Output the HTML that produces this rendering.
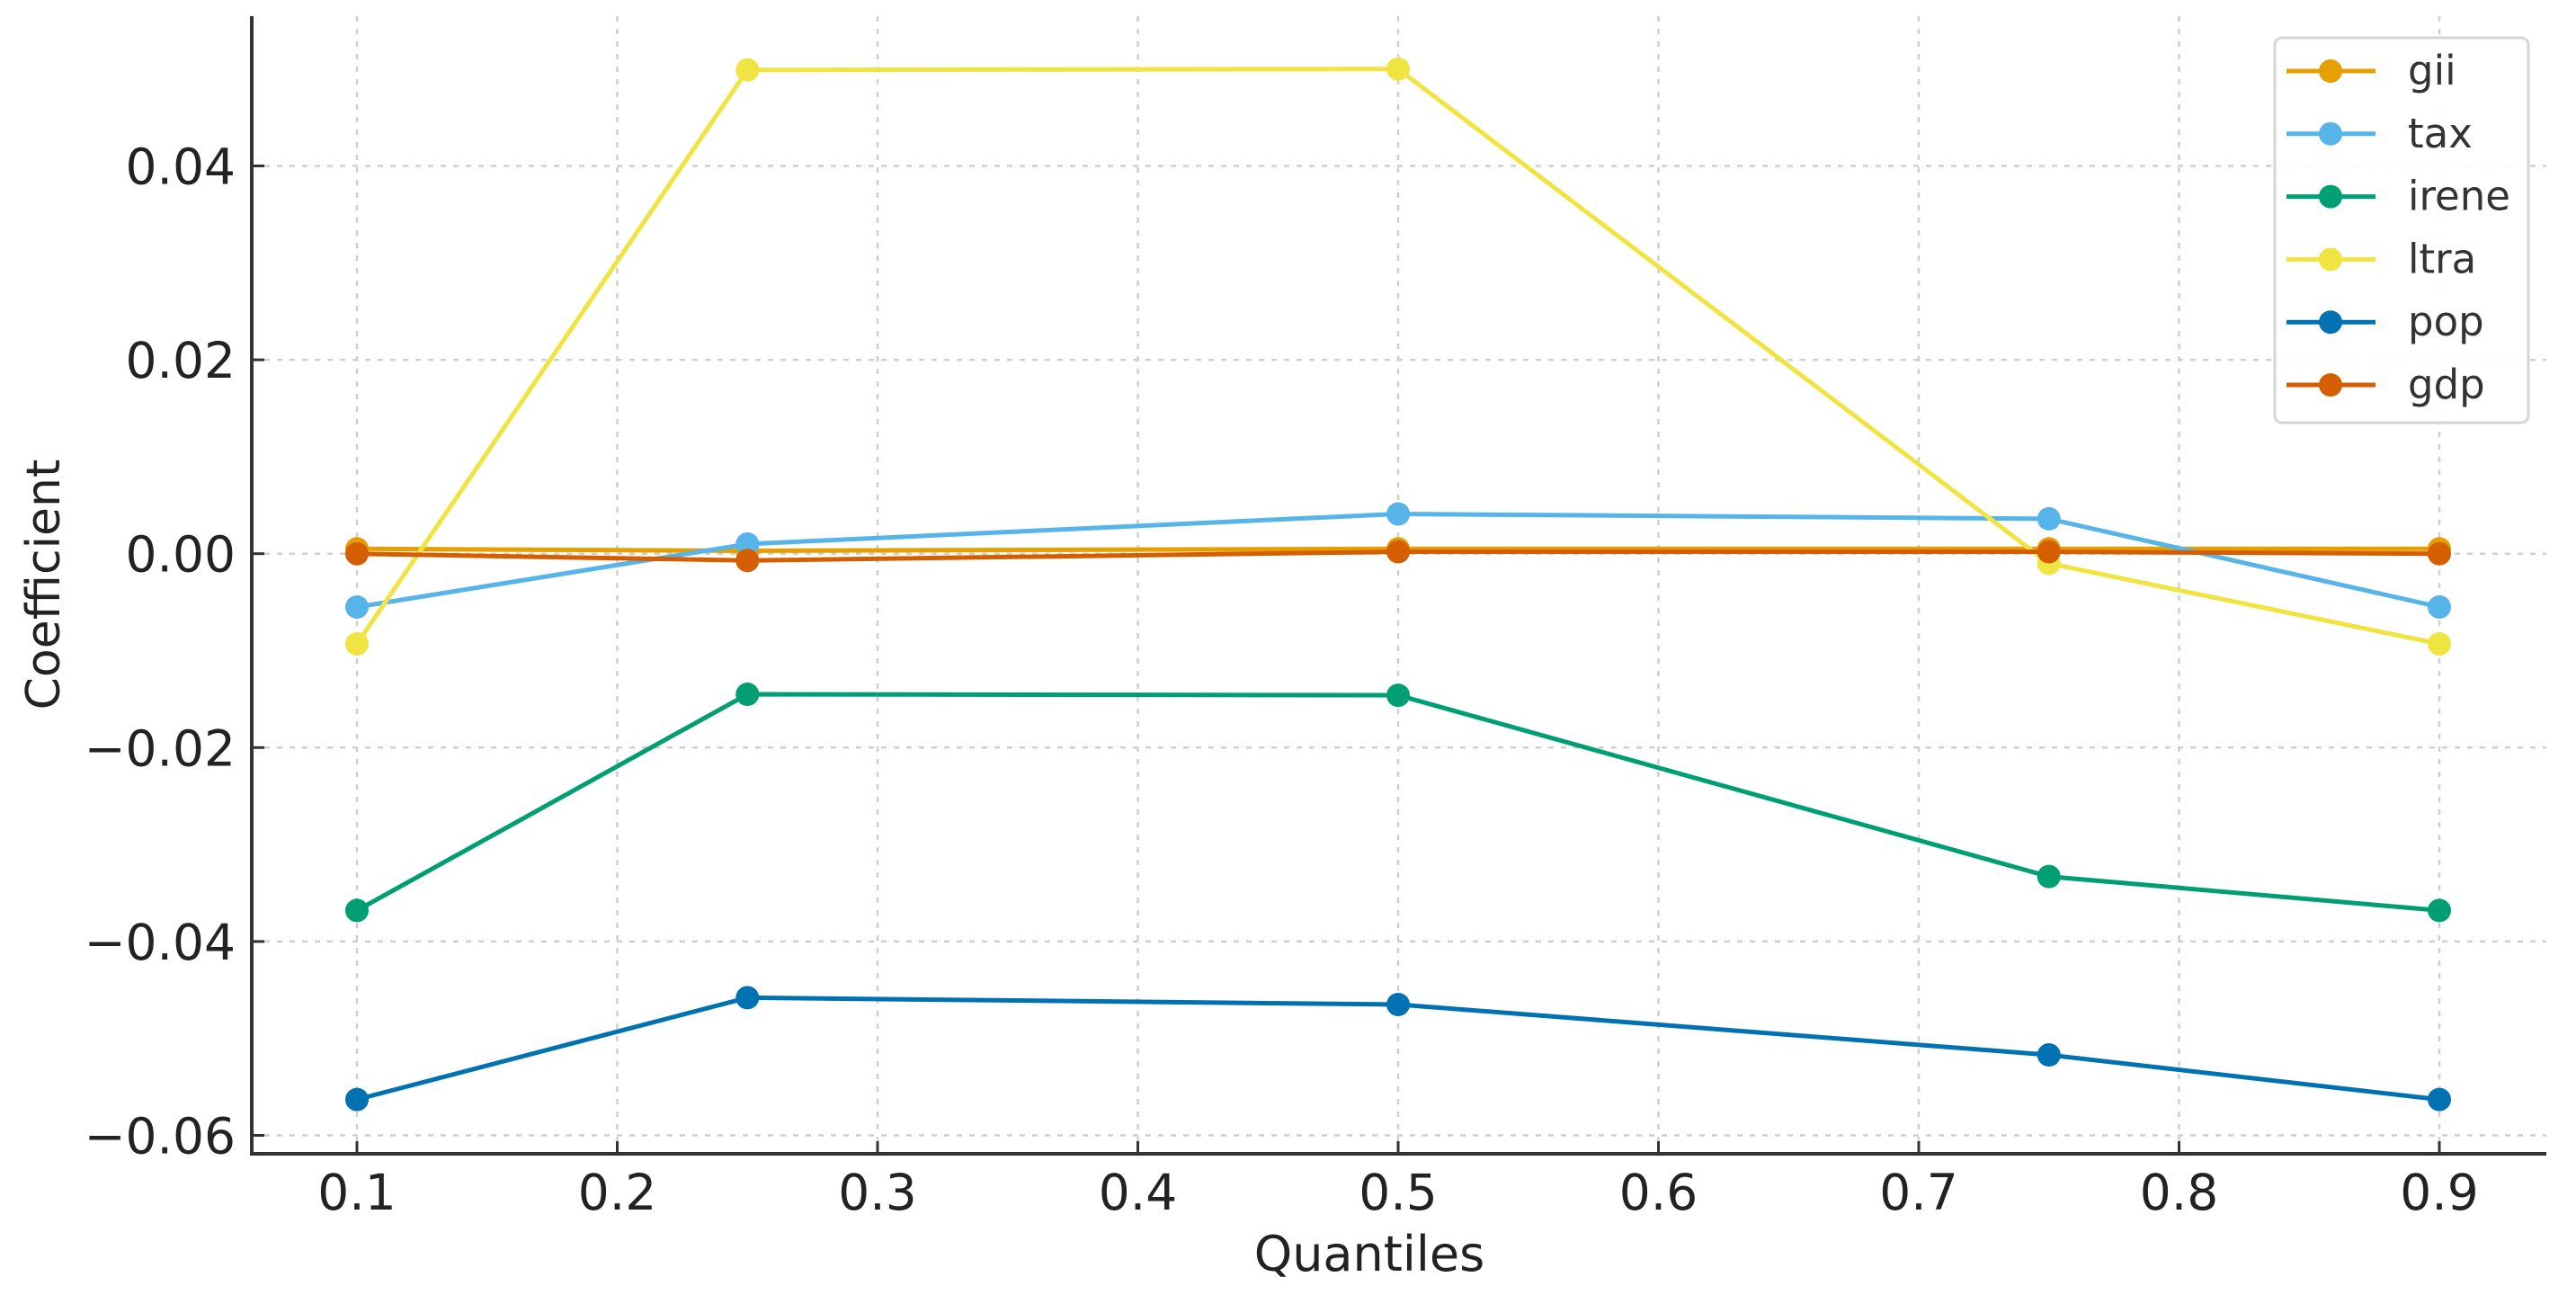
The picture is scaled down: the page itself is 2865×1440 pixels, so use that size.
<!DOCTYPE html>
<html><head><meta charset="utf-8"><style>
html,body{margin:0;padding:0;background:#fff;}
svg{display:block;font-family:"DejaVu Sans","Liberation Sans",sans-serif;}
</style></head><body>
<svg id="chart" width="2865" height="1440" viewBox="0 0 2865 1440" xmlns="http://www.w3.org/2000/svg">
<g id="grid"></g>
<g id="series"></g>
<g id="axes"></g>
<g id="legend"></g>
</svg>
<script>
const quantiles = [0.1, 0.25, 0.5, 0.75, 0.9];
const seriesNames = ["gii", "tax", "irene", "ltra", "pop", "gdp"];
const giiValues = [0.0005, 0.0003, 0.0005, 0.0005, 0.0005];
const taxValues = [-0.0055, 0.001, 0.0041, 0.0036, -0.0055];
const ireneValues = [-0.0368, -0.0145, -0.0146, -0.0333, -0.0368];
const ltraValues = [-0.0093, 0.0499, 0.0500, -0.0010, -0.0093];
const popValues = [-0.0563, -0.0458, -0.0465, -0.0517, -0.0563];
const gdpValues = [0.0, -0.0007, 0.0002, 0.0002, 0.0];
const xTicks = [0.1, 0.2, 0.3, 0.4, 0.5, 0.6, 0.7, 0.8, 0.9];
const xTickLabels = ["0.1","0.2","0.3","0.4","0.5","0.6","0.7","0.8","0.9"];
const yTicks = [-0.06, -0.04, -0.02, 0.0, 0.02, 0.04];
const yTickLabels = ["\u22120.06","\u22120.04","\u22120.02","0.00","0.02","0.04"];

const colors = {gii:"#E69F00", tax:"#56B4E9", irene:"#009E73", ltra:"#F0E442", pop:"#0072B2", gdp:"#D55E00"};
const values = {gii:giiValues, tax:taxValues, irene:ireneValues, ltra:ltraValues, pop:popValues, gdp:gdpValues};
const NS = "http://www.w3.org/2000/svg";
const X0 = 280, X1 = 2832, YTOP = 18, YBOT = 1283;
function xs(q){ return 397 + (q - 0.1) * 2895; }
function ys(v){ return 615.7 - v * 10780; }
function mk(tag, attrs, parent){ const e = document.createElementNS(NS, tag); for (const k in attrs) e.setAttribute(k, attrs[k]); parent.appendChild(e); return e; }

const grid = document.getElementById('grid');
xTicks.forEach((t,i)=>{
  const l = mk('line',{x1:xs(t),x2:xs(t),y1:YTOP,y2:YBOT,stroke:'#cfcfcf','stroke-width':2.5,'stroke-dasharray':'6,8'},grid);
  
  
});
yTicks.forEach((t,i)=>{
  const l = mk('line',{x1:X0,x2:X1,y1:ys(t),y2:ys(t),stroke:'#cfcfcf','stroke-width':2.5,'stroke-dasharray':'6,8'},grid);
  
  
});

const sg = document.getElementById('series');
seriesNames.forEach(name=>{
  const vals = values[name];
  const g = mk('g',{},sg);
  
  
  const pts = quantiles.map((q,i)=>xs(q)+','+ys(vals[i])).join(' ');
  const pl = mk('polyline',{points:pts,fill:'none',stroke:colors[name],'stroke-width':5,'stroke-linejoin':'round'},g);
  
  
  quantiles.forEach((q,i)=>{
    const c = mk('circle',{cx:xs(q),cy:ys(vals[i]),r:13,fill:colors[name]},g);
    
    
  });
});

const ax = document.getElementById('axes');
const sp1 = mk('line',{x1:X0,x2:X0,y1:YTOP,y2:YBOT+2,stroke:'#333','stroke-width':4},ax);


const sp2 = mk('line',{x1:X0-2,x2:X1,y1:YBOT,y2:YBOT,stroke:'#333','stroke-width':4},ax);


xTicks.forEach((t,i)=>{
  mk('line',{x1:xs(t),x2:xs(t),y1:YBOT,y2:YBOT-14,stroke:'#333','stroke-width':3},ax);
  const tx = mk('text',{x:xs(t),y:1345,'text-anchor':'middle','font-size':55,fill:'#222'},ax);
  tx.textContent = xTickLabels[i];
  
  
});
yTicks.forEach((t,i)=>{
  mk('line',{x1:X0,x2:X0+14,y1:ys(t),y2:ys(t),stroke:'#333','stroke-width':3},ax);
  const tx = mk('text',{x:262,y:ys(t)+20,'text-anchor':'end','font-size':55,fill:'#222'},ax);
  tx.textContent = yTickLabels[i];
  
  
});
const xt = mk('text',{x:1523,y:1413,'text-anchor':'middle','font-size':54,fill:'#222'},ax);
xt.textContent = 'Quantiles';


const yt = mk('text',{x:0,y:0,'text-anchor':'middle','font-size':52,fill:'#222',transform:'translate(66,650) rotate(-90)'},ax);
yt.textContent = 'Coefficient';



const lg = document.getElementById('legend');
const box = mk('rect',{x:2530,y:42,width:282,height:428,rx:8,fill:'#fff','fill-opacity':0.9,stroke:'#d6d6d6','stroke-width':3},lg);


seriesNames.forEach((name,i)=>{
  const y = 79 + i*69.8;
  const g = mk('g',{},lg);
  
  
  mk('line',{x1:2543,x2:2642,y1:y,y2:y,stroke:colors[name],'stroke-width':5},g);
  mk('circle',{cx:2592,cy:y,r:13,fill:colors[name]},g);
  const t = mk('text',{x:2678,y:y+15,'font-size':45,fill:'#333'},g);
  t.textContent = name;
});
</script>
</body></html>
